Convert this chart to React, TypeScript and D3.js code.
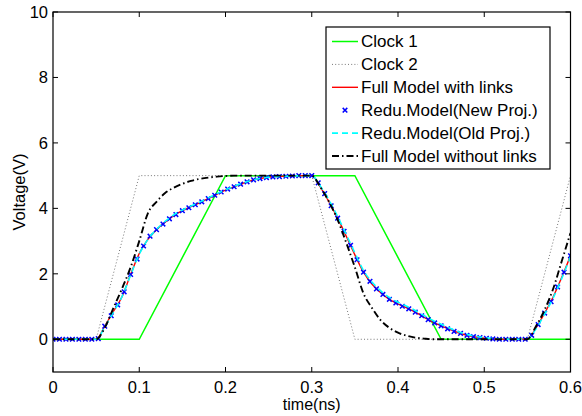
import React from "react";
import * as d3 from "d3";

// ---------- data ----------
const xTicks = [0, 0.1, 0.2, 0.3, 0.4, 0.5, 0.6];
const yTicks = [0, 2, 4, 6, 8, 10];

const clock1T = [0, 0.1, 0.2, 0.35, 0.45, 0.6];
const clock1V = [0, 0, 5, 5, 0, 0];

const clock2T = [0, 0.05, 0.1, 0.3, 0.35, 0.55, 0.6];
const clock2V = [0, 0, 5, 5, 0, 0, 5];

// sampled every 0.01 ns from 0 to 0.6
const fullWithLinks = [
  0, 0, 0, 0, 0, 0,
  0.4, 0.85, 1.3, 1.98, 2.62,
  3.05, 3.35, 3.58, 3.78, 3.93, 4.05, 4.17, 4.3, 4.43, 4.56,
  4.66, 4.76, 4.85, 4.91, 4.95, 4.97, 4.98, 4.99, 5.0, 5.0,
  4.65, 4.2, 3.7, 3.15, 2.58, 2.05, 1.68, 1.42, 1.22, 1.08,
  0.96, 0.83, 0.68, 0.53, 0.41, 0.3, 0.2, 0.12, 0.07, 0.03,
  0.01, 0, 0, 0, 0, 0.35, 0.8, 1.3, 1.9, 2.55,
];

const reduOld = [
  0, 0, 0, 0, 0, 0,
  0.38, 0.83, 1.3, 1.96, 2.6,
  3.05, 3.36, 3.6, 3.8, 3.95, 4.07, 4.19, 4.32, 4.45, 4.57,
  4.67, 4.77, 4.85, 4.91, 4.95, 4.97, 4.98, 4.99, 5.0, 5.0,
  4.68, 4.25, 3.75, 3.2, 2.64, 2.1, 1.74, 1.48, 1.28, 1.13,
  1.01, 0.88, 0.73, 0.58, 0.46, 0.34, 0.23, 0.15, 0.09, 0.05,
  0.02, 0.01, 0, 0, 0, 0.32, 0.77, 1.27, 1.87, 2.52,
];

const fullWithoutLinks = [
  0, 0, 0, 0, 0, 0,
  0.35, 0.95, 1.55, 2.2, 3.0,
  3.85, 4.2, 4.47, 4.63, 4.75, 4.84, 4.9, 4.94, 4.97, 4.99,
  5, 5, 5, 5, 5, 5, 5, 5, 5, 5,
  4.65, 4.2, 3.65, 2.95, 2.2, 1.4, 0.95, 0.58, 0.35, 0.2,
  0.11, 0.05, 0.02, 0, 0, 0, 0, 0, 0, 0,
  0, 0, 0, 0, 0, 0.4, 0.9, 1.55, 2.4, 3.25,
];

// markers sampled every 0.0075 ns from 0 to 0.6
const reduNew = [
  0, 0, 0, 0, 0, 0, 0, 0.02, 0.4, 0.72,
  1.05, 1.45, 1.98, 2.45, 2.85, 3.15, 3.35, 3.52, 3.68, 3.81,
  3.93, 4.02, 4.11, 4.2, 4.3, 4.4, 4.5, 4.59, 4.66, 4.74,
  4.81, 4.87, 4.91, 4.94, 4.96, 4.97, 4.98, 4.99, 5.0, 5.0,
  5.0, 4.78, 4.45, 4.08, 3.7, 3.3, 2.87, 2.43, 2.05, 1.77,
  1.54, 1.37, 1.22, 1.11, 1.01, 0.93, 0.83, 0.72, 0.6, 0.5,
  0.41, 0.32, 0.24, 0.18, 0.12, 0.08, 0.05, 0.03, 0.01, 0,
  0, 0, 0, 0, 0.12, 0.45, 0.8, 1.15, 1.6, 2.05,
  2.55,
];

const legendLabels = [
  "Clock 1",
  "Clock 2",
  "Full Model with links",
  "Redu.Model(New Proj.)",
  "Redu.Model(Old Proj.)",
  "Full Model without links",
];

// ---------- layout ----------
const W = 582;
const H = 416;
const L = 53;
const R = 570.5;
const T = 12;
const B = 372;
const FONT = "'Liberation Sans', Arial, Helvetica, sans-serif";

export default function App() {
  const x = d3.scaleLinear().domain([0, 0.6]).range([L, R]);
  const y = d3.scaleLinear().domain([-1, 10]).range([B, T]);

  const lineStep = 0.01;
  const markStep = 0.0075;
  const toPts = (ts: number[], vs: number[]) => vs.map((v, i) => [ts[i], v] as [number, number]);
  const gridPts = (vs: number[], step: number) => vs.map((v, i) => [i * step, v] as [number, number]);

  const linear = d3
    .line<[number, number]>()
    .x((d) => x(d[0]))
    .y((d) => y(d[1]));
  const smooth = d3
    .line<[number, number]>()
    .x((d) => x(d[0]))
    .y((d) => y(d[1]))
    .curve(d3.curveMonotoneX);

  const markers = gridPts(reduNew, markStep);
  const ms = 2.3;
  const xMark = (cx: number, cy: number, key: string | number) => (
    <path
      key={key}
      d={`M${cx - ms},${cy - ms}L${cx + ms},${cy + ms}M${cx - ms},${cy + ms}L${cx + ms},${cy - ms}`}
      stroke="#0000ff"
      strokeWidth={1.5}
      fill="none"
    />
  );

  const lgX = 326;
  const lgY = 27;
  const lgW = 224;
  const lgH = 142;
  const rowY0 = 41.5;
  const rowDy = 22.9;
  const sx0 = 332;
  const sx1 = 358;
  const tx = 361;

  const legendStyles = [
    { stroke: "#00ff00", width: 1.5, dash: undefined as string | undefined },
    { stroke: "#777", width: 1, dash: "1,2.2" },
    { stroke: "#ff0000", width: 1.4, dash: undefined },
    null,
    { stroke: "#00ffff", width: 1.6, dash: "6,4" },
    { stroke: "#000", width: 1.8, dash: "7,3,1.5,3" },
  ];

  return (
    <div style={{ position: "absolute", left: 0, top: 0 }}>
      <svg width={W} height={H} style={{ display: "block", background: "#fff" }} fontFamily={FONT}>
        <defs>
          <clipPath id="plotClip">
            <rect x={L} y={T} width={R - L} height={B - T} />
          </clipPath>
        </defs>
        <rect x={0} y={0} width={W} height={H} fill="#fff" />

        <g clipPath="url(#plotClip)">
          <path d={linear(toPts(clock1T, clock1V)) || ""} fill="none" stroke="#00ff00" strokeWidth={1.5} />
          <path
            d={linear(toPts(clock2T, clock2V)) || ""}
            fill="none"
            stroke="#777"
            strokeWidth={1}
            strokeDasharray="1,2.2"
          />
          <path d={smooth(gridPts(fullWithLinks, lineStep)) || ""} fill="none" stroke="#ff0000" strokeWidth={1.4} />
          {markers.map((d, i) => xMark(x(d[0]), y(d[1]), i))}
          <path
            d={smooth(gridPts(reduOld, lineStep)) || ""}
            fill="none"
            stroke="#00ffff"
            strokeWidth={1.6}
            strokeDasharray="6,4"
          />
          <path
            d={smooth(gridPts(fullWithoutLinks, lineStep)) || ""}
            fill="none"
            stroke="#000"
            strokeWidth={1.9}
            strokeDasharray="7,3,1.5,3"
          />
        </g>

        {/* axes box */}
        <rect x={L} y={T} width={R - L} height={B - T} fill="none" stroke="#000" strokeWidth={1.2} />

        {/* x ticks */}
        {xTicks.map((t) => (
          <g key={"xt" + t}>
            <line x1={x(t)} x2={x(t)} y1={B} y2={B - 5} stroke="#000" strokeWidth={1} />
            <line x1={x(t)} x2={x(t)} y1={T} y2={T + 5} stroke="#000" strokeWidth={1} />
            <text x={x(t)} y={393} textAnchor="middle" fontSize={16.5}>
              {String(t)}
            </text>
          </g>
        ))}

        {/* y ticks */}
        {yTicks.map((v) => (
          <g key={"yt" + v}>
            <line x1={L} x2={L + 5} y1={y(v)} y2={y(v)} stroke="#000" strokeWidth={1} />
            <line x1={R} x2={R - 5} y1={y(v)} y2={y(v)} stroke="#000" strokeWidth={1} />
            <text x={48} y={y(v)} dy="0.35em" textAnchor="end" fontSize={16.5}>
              {String(v)}
            </text>
          </g>
        ))}

        <text x={(L + R) / 2} y={410} textAnchor="middle" fontSize={16}>
          time(ns)
        </text>
        <text
          transform={`translate(24.5,${(T + B) / 2}) rotate(-90)`}
          textAnchor="middle"
          fontSize={16.5}
        >
          Voltage(V)
        </text>

        {/* legend */}
        <rect x={lgX} y={lgY} width={lgW} height={lgH} fill="#fff" stroke="#000" strokeWidth={1.2} />
        {legendLabels.map((lab, i) => {
          const cy = rowY0 + i * rowDy;
          const st = legendStyles[i];
          return (
            <g key={lab}>
              {st ? (
                <line
                  x1={sx0}
                  x2={sx1}
                  y1={cy}
                  y2={cy}
                  stroke={st.stroke}
                  strokeWidth={st.width}
                  strokeDasharray={st.dash}
                />
              ) : (
                xMark((sx0 + sx1) / 2, cy, "lm")
              )}
              <text x={tx} y={cy} dy="0.35em" fontSize={17}>
                {lab}
              </text>
            </g>
          );
        })}
      </svg>
    </div>
  );
}
